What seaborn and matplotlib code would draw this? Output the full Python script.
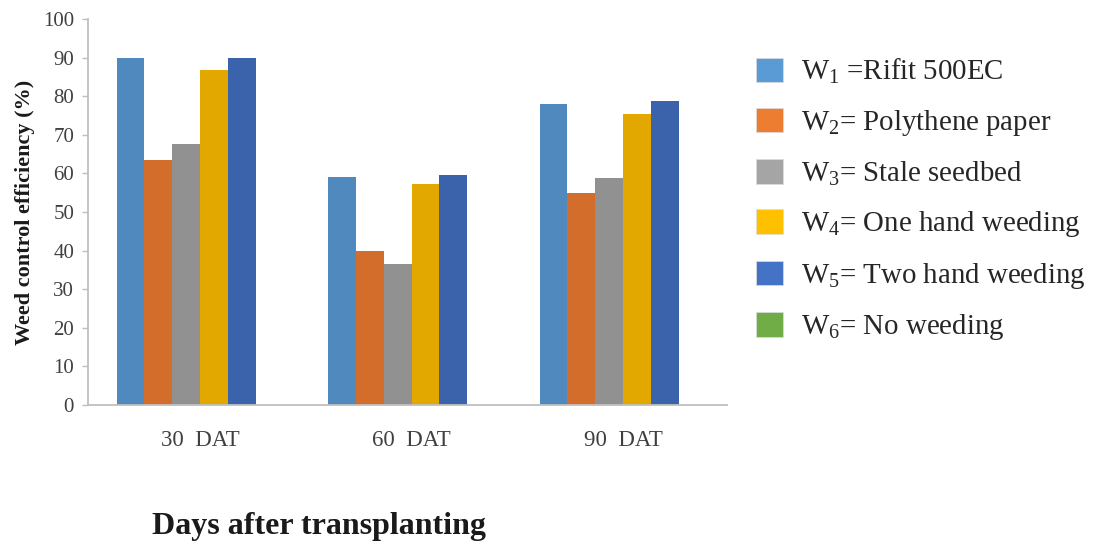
import numpy as np
import pandas as pd
import seaborn as sns
import matplotlib
matplotlib.use("Agg")
import matplotlib.pyplot as plt
from matplotlib.patches import Patch

# Weed control efficiency (%) at each sampling stage
stages = ["30  DAT", "60  DAT", "90  DAT"]
treatments = [
    r"W$_{1}$ =Rifit 500EC",
    r"W$_{2}$= Polythene paper",
    r"W$_{3}$= Stale seedbed",
    r"W$_{4}$= One hand weeding",
    r"W$_{5}$= Two hand weeding",
    r"W$_{6}$= No weeding",
]
w1 = [90.0, 59.0, 77.9]
w2 = [63.6, 39.8, 55.0]
w3 = [67.5, 36.6, 58.7]
w4 = [86.8, 57.3, 75.3]
w5 = [90.0, 59.5, 78.8]
w6 = [0.0, 0.0, 0.0]

bar_colors = ["#4F89BD", "#D36D2B", "#919191", "#E2A800", "#3B63AC", "#70AD47"]
key_colors = ["#5B9BD5", "#ED7D31", "#A5A5A5", "#FFC000", "#4472C4", "#70AD47"]

rows = []
for name, vals in zip(treatments, [w1, w2, w3, w4, w5, w6]):
    for st, v in zip(stages, vals):
        rows.append({"stage": st, "treatment": name, "value": v})
df = pd.DataFrame(rows)

sns.set_theme(style="white")
plt.rcParams["font.family"] = ["Liberation Serif", "DejaVu Serif"]
plt.rcParams["mathtext.fontset"] = "custom"
plt.rcParams["mathtext.rm"] = "Liberation Serif"
plt.rcParams["mathtext.it"] = "Liberation Serif"
plt.rcParams["mathtext.bf"] = "Liberation Serif:bold"

fig = plt.figure(figsize=(10.93, 5.44), dpi=100)
ax = fig.add_axes([0.0805, 0.2555, 0.5845, 0.7095])

sns.barplot(data=df, x="stage", y="value", hue="treatment",
            palette=bar_colors, saturation=1, width=0.79,
            linewidth=0, legend=False, ax=ax)

ax.set_ylim(0, 100)
ax.set_yticks(np.arange(0, 101, 10))
ax.set_xlim(-0.53, 2.49)
ax.tick_params(axis="y", labelsize=15, labelcolor="#404040", length=4,
               width=1, color="#BFBFBF", direction="out", pad=6, left=True)
ax.tick_params(axis="x", labelsize=16.5, labelcolor="#404040", length=0, pad=18)
sns.despine(ax=ax)
for side in ("left", "bottom"):
    ax.spines[side].set_color("#BFBFBF")
    ax.spines[side].set_linewidth(1.3)
ax.set_xlabel("")
ax.set_ylabel("Weed control efficiency (%)", fontsize=16, fontweight="bold",
              color="#1a1a1a", labelpad=6)

fig.text(0.292, 0.005, "Days after transplanting", fontsize=23,
         fontweight="bold", color="#1a1a1a", ha="center", va="bottom")

handles = [Patch(facecolor=c, edgecolor="#dddddd", linewidth=0.5) for c in key_colors]
fig.legend(handles, treatments, loc="upper left",
           bbox_to_anchor=(0.692, 0.895), frameon=False, fontsize=20.8,
           handlelength=0.93, handleheight=0.93, handletextpad=0.6,
           labelspacing=0.74, borderaxespad=0, borderpad=0)

fig.savefig("out.png", dpi=100)
